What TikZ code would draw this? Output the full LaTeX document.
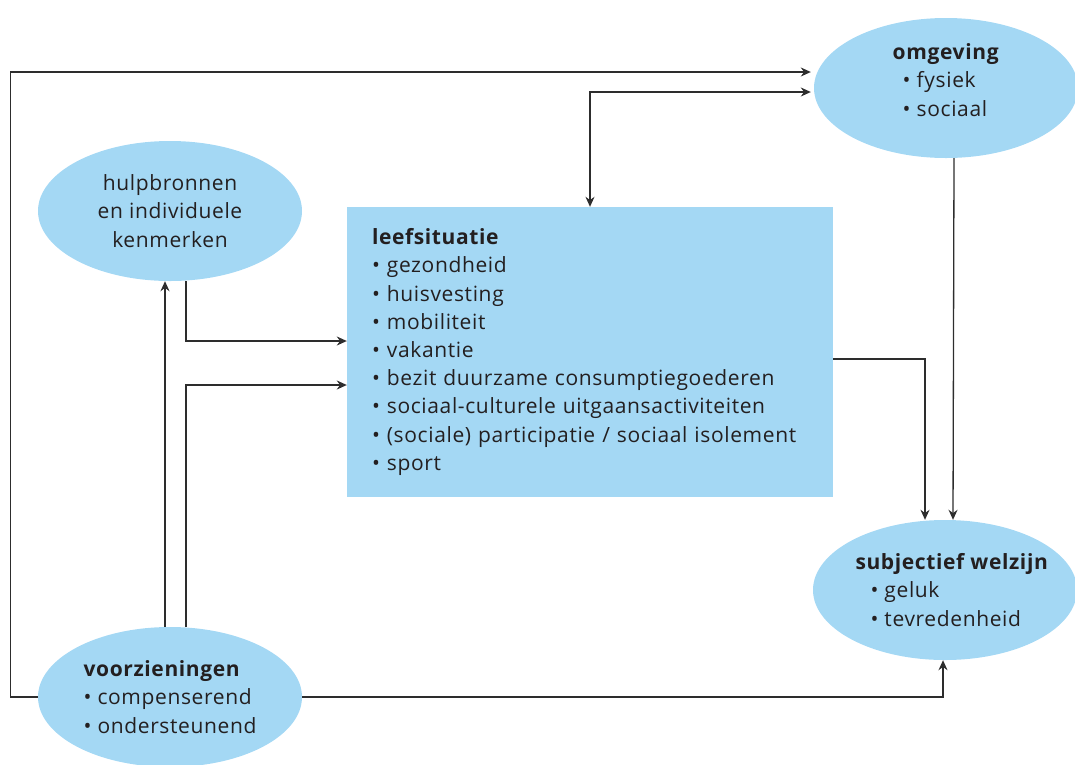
\documentclass[tikz,border=0pt]{standalone}
\usepackage{fontspec}
\setmainfont{Open Sans}[LetterSpace=3]
\usetikzlibrary{arrows.meta}
\usetikzlibrary{shapes.geometric}
\definecolor{lichtblauw}{RGB}{164,216,244}
\definecolor{tekst}{RGB}{35,31,32}
\definecolor{lijn}{RGB}{45,45,45}

\begin{document}
\begin{tikzpicture}[x=1pt,y=-1pt,
    font=\fontsize{21}{28.2}\selectfont, text=tekst,
    bol/.style={ellipse, fill=lichtblauw, minimum width=264pt, minimum height=140pt, inner sep=-15pt},
    blok/.style={rectangle, fill=lichtblauw, minimum width=486pt, minimum height=290pt,
                 inner xsep=25pt, text width=436pt, align=left},
    pijl/.style={draw=lijn, line width=1.3pt, -{Stealth[length=10pt,width=9pt]}}]
      \def\inspring{\hspace*{10pt}}

      \useasboundingbox (0,0) rectangle (1075,764);

      \node[bol] (omg) at (946,88) {};
      \node[align=left] (omgtekst) at (946,80) {\textbf{omgeving}\\ \inspring• fysiek\\ \inspring• sociaal};
      \node[bol, align=center] (hulp) at (170,211) {hulpbronnen\\ en individuele\\ kenmerken};
      \node[blok] (leef) at (590,352) {\textbf{leefsituatie}\\ • gezondheid\\ • huisvesting\\ • mobiliteit\\ • vakantie\\
        • bezit duurzame consumptiegoederen\\ • sociaal-culturele uitgaansactiviteiten\\
        • (sociale) participatie / sociaal isolement\\ • sport};
      \node[bol] (subj) at (945,590) {};
      \node[align=left] (subjtekst) at (952,590) {\textbf{subjectief welzijn}\\ \hspace*{15pt}• geluk\\ \hspace*{15pt}• tevredenheid};
      \node[bol, align=left] (voorz) at (170,697) {\textbf{voorzieningen}\\ • compenserend\\ • ondersteunend};

      \draw[pijl, shorten >=3pt] (voorz.west) -- ++(-27,0) |- ([yshift=16pt]omg.west);
      \draw[pijl, {Stealth[length=10pt,width=9pt]}-{Stealth[length=10pt,width=9pt]}, shorten >=3pt]
        (leef.north) |- ([yshift=-4pt]omg.west);
      \draw[pijl] ([xshift=-5pt]voorz.north) -- ([xshift=-5pt]hulp.south);
      \draw[pijl] ([xshift=16pt]voorz.north) |- ([yshift=-33pt]leef.west);
      \draw[pijl] ([xshift=16pt]hulp.south) |- ([yshift=11pt]leef.west);
      \draw[pijl] ([yshift=-7pt]leef.east) -| ([xshift=-20pt]subj.north);
      \draw[pijl] ([xshift=8pt]omg.south) -- ([xshift=8pt]subj.north);
      \draw[pijl] (voorz.east) -| ([xshift=-2pt]subj.south);

    \end{tikzpicture}
\end{document}
